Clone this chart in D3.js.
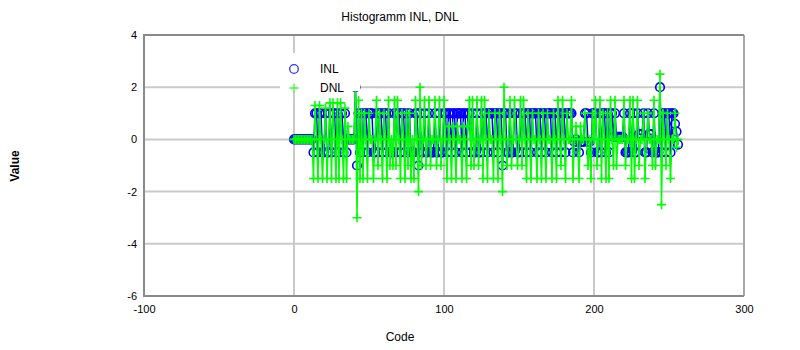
<!DOCTYPE html>
<html>
<head>
<meta charset="utf-8">
<script src="https://d3js.org/d3.v7.min.js"></script>
<style>
  body { margin: 0; background: #fff; }
  text { font-family: Arial, "Liberation Sans", sans-serif; }
</style>
</head>
<body>
<script>
// codes 0..256
var dnl = [
  0,0,0,0,0,0,0,0,0,0,0,0,0,-1.5,1.3,0,
  -1.5,1.3,0,-1.5,0,1.2,-1.5,0,1.4,-1.5,1.4,0,-1.5,1.4,-1.5,1.4,
  0,-1.5,1.2,-1.5,0.5,0,0,0,0,2,-3,1.5,-1.5,1,-1.5,1,
  0,-1.5,1,0,0,-1.5,0,1.5,-1,1,0,-1.5,1,0,-1.5,1.5,
  -1,0,-1,1.5,-1,1.5,0,-1.5,1,0,-1.5,1,-1,1,-1.5,0,
  -1.5,1.5,0,-2,2,-1,0,1.5,-1,0,1.5,-1,0,0,1.5,-1,
  0,1.5,-1,0,1.5,0,-1.5,0.5,0,-1.5,0.5,0,-1.5,0.5,0,0,
  -1.5,0.5,0,-1.5,0.5,1.5,-1,1.5,-1,0,1.5,-1,0,1.5,-1.5,1.5,
  0,-1.5,1,0,0,-1.5,1,0,-1.5,1,0,-2,2,0,-1,0,
  1.5,-1,0,1.5,0,-1,0,1.5,-1,1.5,0,-1.5,1,0,-1.5,1,
  0,0,-1.5,1,0,-1.5,1,0,-1.5,1,0,0,-1.5,1,0,-1.5,
  1.5,0,-1,1.5,0,-1.5,1,0,0,1.5,-1.5,0,0.5,0,-1.5,0.5,
  0,0,1,0,-1,0,-1.5,1,0,1.5,-1,0,1.5,-1.5,1,0,
  -1.5,1,-1.5,1.5,0,-1,1.5,-1,0,0,0,0,1.5,-1,0,0,
  1.5,-1.5,1.5,-1.5,0,1.5,-1,0,0,1,-1.5,0,1,0,0,-1,
  1.5,-1,0,0,2.5,-2.5,1,0,-1,1,0,-1.5,0,0,1,-0.3,0
];

var inl = [
  0,0,0,0,0,0,0,0,0,0,0,0,0,-0.5,1,1,
  -0.5,1,1,-0.5,-0.5,1,-0.5,-0.5,1,-0.5,1,1,-0.5,1,-0.5,1,
  1,-0.5,1,-0.5,0,0,0,0,0,2,-1,1,-0.5,1,-0.5,1,
  1,-0.5,1,1,1,-0.5,-0.5,1,-0.5,1,1,-0.5,1,1,-0.5,1,
  -0.5,-0.5,-0.5,1,-0.5,1,1,-0.5,1,1,-0.5,1,-0.5,1,-0.5,-0.5,
  -0.5,1,1,-1,1,-0.5,-0.5,1,-0.5,-0.5,1,-0.5,-0.5,-0.5,1,-0.5,
  -0.5,1,-0.5,-0.5,1,1,-0.5,1,1,-0.5,1,1,-0.5,1,1,1,
  -0.5,1,1,-0.5,1,1,-0.5,1,-0.5,-0.5,1,-0.5,-0.5,1,-0.5,1,
  1,-0.5,1,1,1,-0.5,1,1,-0.5,1,1,-1,1,1,-0.5,-0.5,
  1,-0.5,-0.5,1,1,-0.5,-0.5,1,-0.5,1,1,-0.5,1,1,-0.5,1,
  1,1,-0.5,1,1,-0.5,1,1,-0.5,1,1,1,-0.5,1,1,-0.5,
  1,1,-0.5,1,1,-0.5,1,1,1,1,-0.5,-0.1,0,-0.1,-0.5,-0.1,
  -0.1,-0.1,1,1,-0.1,-0.1,-0.5,1,1,1,-0.5,-0.5,1,-0.5,1,1,
  -0.5,1,-0.5,1,1,0.1,1,0.1,0.1,0.1,0.1,0.1,1,-0.5,-0.5,-0.5,
  1,-0.5,1,-0.5,-0.5,1,0.2,0.2,0.2,1,-0.5,-0.5,1,0.2,0.2,-0.5,
  1,-0.5,-0.5,-0.5,2,-0.5,1,1,-0.5,1,1,-0.5,1,1,0.6,0.3,-0.2
];

var codes = inl.map(function(d, i) { return i; });
var xTicks = [-100, 0, 100, 200, 300];
var yTicks = [-6, -4, -2, 0, 2, 4];
var seriesNames = ["INL", "DNL"];

var margin = {top: 35, right: 56, bottom: 54, left: 144},
	totalWidth = 800,
	totalHeight = 350,
	dataWidth = totalWidth - margin.left - margin.right,
	dataHeight = totalHeight - margin.top - margin.bottom;

var xScale = d3.scaleLinear().domain([-100, 300]).range([0, dataWidth]);
var yScale = d3.scaleLinear().domain([-6, 4]).range([dataHeight, 0]);

var svg = d3.select("body").append("svg")
	.attr("width", totalWidth)
	.attr("height", totalHeight);

svg.append("text")
	.attr("x", 400).attr("y", 21)
	.attr("text-anchor", "middle")
	.style("font-size", "12px")
	.text("Histogramm INL, DNL");

var plot = svg.append("g")
	.attr("transform", "translate(" + margin.left + "," + margin.top + ")");

// grid
plot.append("g").selectAll("line")
	.data(xTicks.slice(1, -1))
	.enter().append("line")
	.attr("x1", d => xScale(d)).attr("x2", d => xScale(d))
	.attr("y1", 0).attr("y2", dataHeight)
	.style("stroke", "#cacaca").style("stroke-width", 2);

plot.append("g").selectAll("line")
	.data(yTicks.slice(1, -1))
	.enter().append("line")
	.attr("x1", 0).attr("x2", dataWidth)
	.attr("y1", d => yScale(d)).attr("y2", d => yScale(d))
	.style("stroke", "#cacaca").style("stroke-width", 2);

// frame
plot.append("line").attr("x1", dataWidth).attr("x2", dataWidth).attr("y1", 0).attr("y2", dataHeight)
	.style("stroke", "#a8a8a8").style("stroke-width", 2);
plot.append("path")
	.attr("d", "M" + dataWidth + ",0H0V" + dataHeight + "H" + dataWidth)
	.style("fill", "none").style("stroke", "#8a8a8a").style("stroke-width", 2);

// axes labels (plain hyphen for negatives, like the original)
var xAxis = d3.axisBottom(xScale).tickValues(xTicks).tickSize(0).tickPadding(9)
	.tickFormat(d => String(d));
var gx = plot.append("g").attr("transform", "translate(0," + dataHeight + ")").call(xAxis);
gx.select(".domain").remove();
gx.selectAll("text").style("font-size", "11px").style("fill", "#000").attr("font-family", null);

var yAxis = d3.axisLeft(yScale).tickValues(yTicks).tickSize(0).tickPadding(7)
	.tickFormat(d => String(d));
var gy = plot.append("g").call(yAxis);
gy.select(".domain").remove();
gy.selectAll("text").style("font-size", "11px").style("fill", "#000").attr("font-family", null);

svg.append("text")
	.attr("x", 400).attr("y", 341)
	.attr("text-anchor", "middle")
	.style("font-size", "12px")
	.text("Code");

svg.append("text")
	.attr("transform", "translate(19,166) rotate(-90)")
	.attr("text-anchor", "middle")
	.style("font-size", "12px")
	.style("font-weight", "bold")
	.text("Value");

// INL
var inlLine = d3.line().x((d, i) => xScale(codes[i])).y(d => yScale(d));
plot.append("path")
	.datum(inl)
	.attr("d", inlLine)
	.style("fill", "none").style("stroke", "#0000ff").style("stroke-width", 1.5);

plot.append("g").selectAll("circle")
	.data(inl)
	.enter().append("circle")
	.attr("cx", (d, i) => xScale(codes[i]))
	.attr("cy", d => yScale(d))
	.attr("r", 4.3)
	.style("fill", "none").style("stroke", "#0000ff").style("stroke-width", 1.6);

// DNL
var plus = "M-4.5,0H4.5M0,-4.5V4.5";
var dnlLine = d3.line().x((d, i) => xScale(codes[i])).y(d => yScale(d));
plot.append("path")
	.datum(dnl)
	.attr("d", dnlLine)
	.style("fill", "none").style("stroke", "#00ff00").style("stroke-width", 1.5);

plot.append("g").selectAll("path")
	.data(dnl)
	.enter().append("path")
	.attr("transform", (d, i) => "translate(" + xScale(codes[i]) + "," + yScale(d) + ")")
	.attr("d", plus)
	.style("fill", "none").style("stroke", "#00ff00").style("stroke-width", 1.6);

// legend (drawn over the data)
var legend = plot.append("g").attr("transform", "translate(" + (xScale(0) - 14) + "," + 18 + ")");
legend.append("rect")
	.attr("x", 0).attr("y", 0).attr("width", 80).attr("height", 38)
	.style("fill", "#fff");
legend.append("circle").attr("cx", 14).attr("cy", 16).attr("r", 4.3)
	.style("fill", "none").style("stroke", "#3333ff").style("stroke-width", 1.3);
legend.append("path").attr("transform", "translate(14,35)").attr("d", plus)
	.style("fill", "none").style("stroke", "#33ff33").style("stroke-width", 1.3);
legend.selectAll("text.lbl")
	.data(seriesNames)
	.enter().append("text")
	.attr("class", "lbl")
	.attr("x", 40)
	.attr("y", (d, i) => 20 + i * 19)
	.style("font-size", "12px")
	.text(d => d);
</script>
</body>
</html>
